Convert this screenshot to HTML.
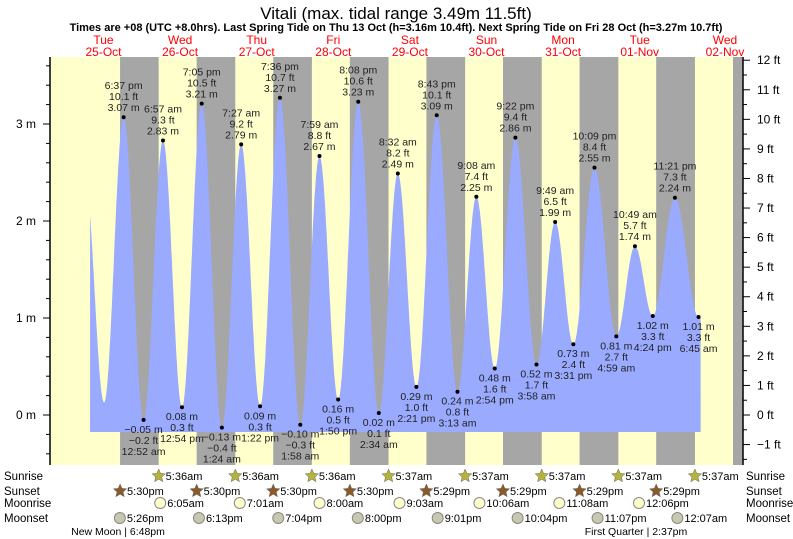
<!DOCTYPE html>
<html><head><meta charset="utf-8"><style>
body{margin:0;background:#fff}
svg{display:block;font-family:"Liberation Sans",sans-serif}
</style></head><body>
<svg id="c" width="793" height="539" viewBox="0 0 793 539">
<text x="396" y="19" text-anchor="middle" font-size="17">Vitali (max. tidal range 3.49m 11.5ft)</text>
<text x="396" y="31" text-anchor="middle" font-size="11" font-weight="bold">Times are +08 (UTC +8.0hrs). Last Spring Tide on Thu 13 Oct (h=3.16m 10.4ft). Next Spring Tide on Fri 28 Oct (h=3.27m 10.7ft)</text>
<g id="bg"></g><g id="tide"></g><g id="labels"></g><g id="axes"></g><g id="bottom"></g>
</svg>
<script>
const dayNames=["Tue","Wed","Thu","Fri","Sat","Sun","Mon","Tue","Wed"];
const dayDates=["25-Oct","26-Oct","27-Oct","28-Oct","29-Oct","30-Oct","31-Oct","01-Nov","02-Nov"];
const extTimes=[6.5,12.5,42.62,48.87,54.95,60.9,67.08,73.4,79.45,85.37,91.6,97.97,103.98,109.83,116.13,122.57,128.53,134.35,140.72,147.22,153.13,158.9,165.37,171.97,177.82,183.52,190.15,196.98,202.82,208.4,215.35,222.75];
const extHeights=[2.45,0.13,3.07,-0.05,2.83,0.08,3.21,-0.13,2.79,0.09,3.27,-0.10,2.67,0.16,3.23,0.02,2.49,0.29,3.09,0.24,2.25,0.48,2.86,0.52,1.99,0.73,2.55,0.81,1.74,1.02,2.24,1.01];
const extFt=["","","10.1","-0.2","9.3","0.3","10.5","-0.4","9.2","0.3","10.7","-0.3","8.8","0.5","10.6","0.1","8.2","1.0","10.1","0.8","7.4","1.6","9.4","1.7","6.5","2.4","8.4","2.7","5.7","3.3","7.3","3.3"];
const extLabels=["","","6:37 pm","12:52 am","6:57 am","12:54 pm","7:05 pm","1:24 am","7:27 am","1:22 pm","7:36 pm","1:58 am","7:59 am","1:50 pm","8:08 pm","2:34 am","8:32 am","2:21 pm","8:43 pm","3:13 am","9:08 am","2:54 pm","9:22 pm","3:58 am","9:49 am","3:31 pm","10:09 pm","4:59 am","10:49 am","4:24 pm","11:21 pm","6:45 am"];
const sunriseTimes=[29.6,53.6,77.6,101.62,125.62,149.62,173.62,197.62];
const sunriseLabels=["5:36am","5:36am","5:36am","5:37am","5:37am","5:37am","5:37am","5:37am"];
const sunsetTimes=[17.5,41.5,65.5,89.5,113.48,137.48,161.48,185.48];
const sunsetLabels=["5:30pm","5:30pm","5:30pm","5:30pm","5:29pm","5:29pm","5:29pm","5:29pm"];
const moonriseTimes=[30.08,55.02,80,105.05,130.1,155.13,180.1];
const moonriseLabels=["6:05am","7:01am","8:00am","9:03am","10:06am","11:08am","12:06pm"];
const moonsetTimes=[17.43,42.22,67.07,92,117.02,142.07,167.12,192.12];
const moonsetLabels=["5:26pm","6:13pm","7:04pm","8:00pm","9:01pm","10:04pm","11:07pm","12:07am"];
const mTicks=[0,1,2,3];
const ftTicks=[-1,0,1,2,3,4,5,6,7,8,9,10,11,12];
const T0=-24;
const PX=76.6/24, X0=64.2, Y0=415, PM=97, L=50, R=743, TOP=57, BOT=465, FILLB=432;
const X=t=>X0+t*PX, Y=m=>Y0-m*PM;
const ns="http://www.w3.org/2000/svg";
function mk(tag,parent,attrs,txt){const e=document.createElementNS(ns,tag);for(const k in attrs)e.setAttribute(k,attrs[k]);if(txt!==undefined)e.textContent=txt;document.getElementById(parent).appendChild(e);return e;}
const et=extTimes.map((t,i)=>i<2?t:t+T0);
let b=mk('rect','bg',{x:L,y:TOP,width:R-L,height:BOT-TOP,fill:'#ffffcc'});

for(let i=0;i<sunsetTimes.length;i++){const x1=X(sunsetTimes[i]),x2=X(sunriseTimes[i]);
 const r=mk('rect','bg',{x:x1,y:TOP,width:x2-x1,height:BOT-TOP,fill:'#a6a6a6'});
 }
let r2=mk('rect','bg',{x:733,y:TOP,width:R-733,height:BOT-TOP,fill:'#a6a6a6'});

for(let i=0;i<dayNames.length;i++){const x=i==8?725:X(i*24+12)+1;
 const t1=mk('text','bg',{x:x,y:44,'text-anchor':'middle','font-size':12,fill:'#f00'},dayNames[i]);
 
 const t2=mk('text','bg',{x:x,y:56,'text-anchor':'middle','font-size':12,fill:'#f00'},dayDates[i]);
 }
function h(t){for(let i=0;i<et.length-1;i++){if(t>=et[i]&&t<=et[i+1]){const f=(t-et[i])/(et[i+1]-et[i]);return extHeights[i]+(extHeights[i+1]-extHeights[i])*(1-Math.cos(Math.PI*f))/2;}}return extHeights[et.length-1];}
const tStart=8.1,tEnd=199.4;let d=`M${X(tStart)},${FILLB}`;
for(let t=tStart;t<=tEnd;t+=0.1)d+=`L${X(t).toFixed(1)},${Y(h(t)).toFixed(1)}`;
d+=`L${X(tEnd)},${FILLB}Z`;
const p=mk('path','tide',{d:d,fill:'#99aaff'});

for(let i=2;i<et.length;i++){const x=X(et[i]),y=Y(extHeights[i]);const hi=extHeights[i]>extHeights[i-1];
 const c=mk('circle','labels',{cx:x,cy:y,r:2,fill:'#000'});
 
 const m=extHeights[i].toFixed(2).replace('-','\u2212')+' m',f=extFt[i].replace('-','\u2212')+' ft',tl=extLabels[i];
 const lines=hi?[tl,f,m]:[m,f,tl];const y0=hi?y-28:y+13;
 lines.forEach((s,k)=>{const tx=mk('text','labels',{x:x,y:y0+k*11,'text-anchor':'middle','font-size':10.5,fill:'#222'},s);
 });}
let a=mk('line','axes',{x1:L,y1:TOP,x2:L,y2:BOT,stroke:'#000','stroke-width':1.5});

a=mk('line','axes',{x1:R,y1:TOP,x2:R,y2:BOT,stroke:'#000','stroke-width':1.5});

for(let v=-0.4;v<=3.61;v+=0.2){const y=Y(v);if(y<TOP||y>BOT)continue;const maj=Math.abs(v-Math.round(v))<0.01;
 const tk=mk('line','axes',{x1:L-(maj?7:4),y1:y,x2:L,y2:y,stroke:'#000'});}
mTicks.forEach(v=>{const t=mk('text','axes',{x:36,y:Y(v)+4,'text-anchor':'end','font-size':12},v+' m');});
for(let v=-1.5;v<=12.01;v+=0.5){const y=Y(v*0.3048);const maj=Math.abs(v-Math.round(v))<0.01;
 const tk=mk('line','axes',{x1:R,y1:y,x2:R+(maj?7:4),y2:y,stroke:'#000'});}
ftTicks.forEach(v=>{const t=mk('text','axes',{x:757,y:Y(v*0.3048)+4,'font-size':12},String(v).replace('-','\u2212')+' ft');});
function star(x,y,fill,name){const pts=[];for(let k=0;k<10;k++){const rr=k%2?3.2:7,an=-Math.PI/2+k*Math.PI/5;pts.push((x+rr*Math.cos(an)).toFixed(1)+','+(y+rr*Math.sin(an)).toFixed(1));}
 const s=mk('polygon','bottom',{points:pts.join(' '),fill:fill,stroke:'#666','stroke-width':0.5});}
function row(times,labs,y,kind){times.forEach((t,i)=>{const x=X(t);
 if(kind=='sr')star(x,y,'#b5b33a','sunrise-icon');else if(kind=='ss')star(x,y,'#8b5a2b','sunset-icon');
 else{const c=mk('circle','bottom',{cx:x,cy:y,r:5.5,fill:kind=='mr'?'#ffffcc':'#c8c8b0',stroke:'#888'});}
 const tx=mk('text','bottom',{x:x+7,y:y+4,'font-size':11},labs[i]);});}
row(sunriseTimes,sunriseLabels,476,'sr');row(sunsetTimes,sunsetLabels,491,'ss');
row(moonriseTimes,moonriseLabels,503,'mr');row(moonsetTimes,moonsetLabels,518,'ms');
[["Sunrise",476],["Sunset",491],["Moonrise",503],["Moonset",518]].forEach(([s,y])=>{
 let t=mk('text','bottom',{x:4,y:y+4,'font-size':11.5},s);
 t=mk('text','bottom',{x:746,y:y+4,'font-size':11.5},s);});
let mp=mk('text','bottom',{x:118,y:535,'text-anchor':'middle','font-size':10.5},'New Moon | 6:48pm');
mp=mk('text','bottom',{x:636,y:535,'text-anchor':'middle','font-size':10.5},'First Quarter | 2:37pm');
</script>
</body></html>
